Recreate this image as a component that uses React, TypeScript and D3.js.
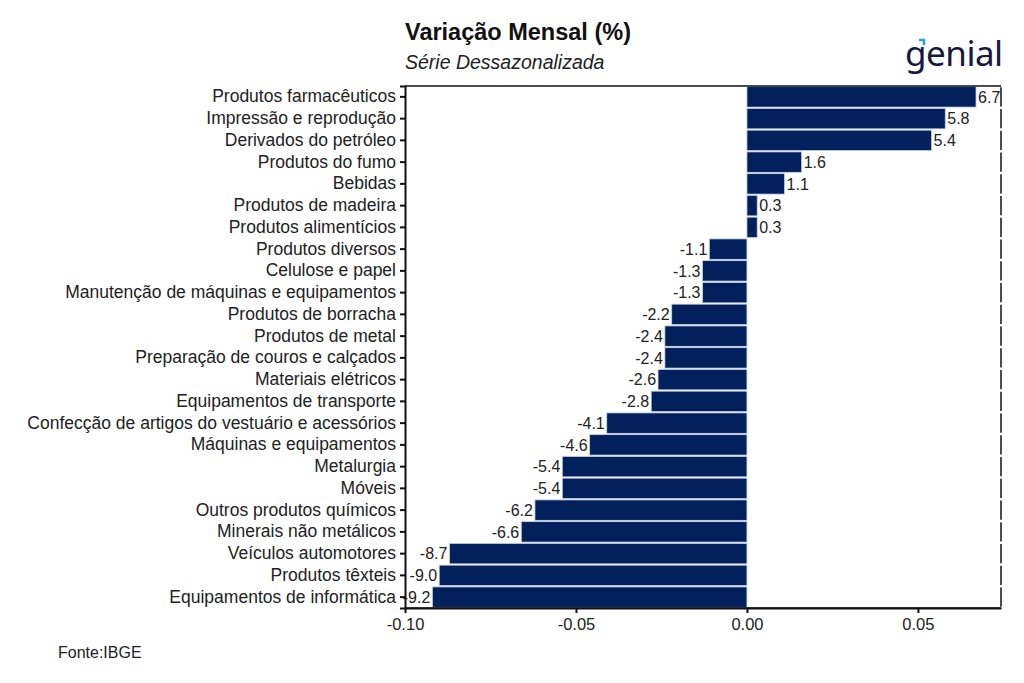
import { useRef, useEffect } from "react";
import * as d3 from "d3";

const categories = [
    "Produtos farmacêuticos",
    "Impressão e reprodução",
    "Derivados do petróleo",
    "Produtos do fumo",
    "Bebidas",
    "Produtos de madeira",
    "Produtos alimentícios",
    "Produtos diversos",
    "Celulose e papel",
    "Manutenção de máquinas e equipamentos",
    "Produtos de borracha",
    "Produtos de metal",
    "Preparação de couros e calçados",
    "Materiais elétricos",
    "Equipamentos de transporte",
    "Confecção de artigos do vestuário e acessórios",
    "Máquinas e equipamentos",
    "Metalurgia",
    "Móveis",
    "Outros produtos químicos",
    "Minerais não metálicos",
    "Veículos automotores",
    "Produtos têxteis",
    "Equipamentos de informática",
];

// monthly change, in fraction (label shows x100)
const values = [
    0.067, 0.058, 0.054, 0.016, 0.011, 0.003, 0.003,
    -0.011, -0.013, -0.013, -0.022, -0.024, -0.024, -0.026, -0.028,
    -0.041, -0.046, -0.054, -0.054, -0.062, -0.066, -0.087, -0.090, -0.092,
];

const xTicks = [-0.1, -0.05, 0, 0.05];

// plain hyphen for negatives, like the original
const fmt = (f: string) => (v: number) => d3.format(f)(v).replace("\u2212", "-");

const App = () => {
    const svgRef = useRef(null);

    useEffect(() => {
        const svg = d3.select(svgRef.current);
        svg.selectAll("*").remove();

        const width = 1024;
        const height = 683;
        const margin = { top: 86, right: 23, bottom: 75, left: 405 };
        const font = "'Liberation Sans', Arial, sans-serif";
        const navy = "#02205c";

        const data = categories.map((c, i) => ({ cat: c, value: values[i] }));

        const x = d3.scaleLinear()
            .domain([-0.1, 0.0743])
            .range([margin.left, width - margin.right]);

        const y = d3.scaleBand()
            .domain(categories)
            .range([margin.top, height - margin.bottom])
            .paddingInner(0.06)
            .paddingOuter(0.03);

        // bars
        svg.append("g")
            .selectAll("rect")
            .data(data)
            .join("rect")
            .attr("x", d => Math.min(x(0), x(d.value)))
            .attr("y", d => y(d.cat)!)
            .attr("width", d => Math.abs(x(d.value) - x(0)))
            .attr("height", y.bandwidth())
            .attr("fill", navy)
            .attr("stroke", "#c9d2e4")
            .attr("stroke-width", 0.8);

        // value labels
        svg.append("g")
            .selectAll("text")
            .data(data)
            .join("text")
            .attr("x", d => d.value >= 0 ? x(d.value) + 2 : x(d.value) - 2)
            .attr("y", d => y(d.cat)! + y.bandwidth() / 2)
            .attr("dy", "0.36em")
            .attr("text-anchor", d => d.value >= 0 ? "start" : "end")
            .attr("font-family", font)
            .attr("font-size", 16)
            .attr("fill", "#222")
            .text(d => fmt(".1f")(d.value * 100));

        const [x0, x1] = x.range();
        const [y0, y1] = y.range();

        // frame: top and bottom
        svg.append("line")
            .attr("x1", x0).attr("x2", x1).attr("y1", y0).attr("y2", y0)
            .attr("stroke", "#111").attr("stroke-width", 1.5);
        svg.append("line")
            .attr("x1", x0).attr("x2", x1).attr("y1", y1).attr("y2", y1)
            .attr("stroke", "#111").attr("stroke-width", 1.5);

        // right edge, broken between bands
        svg.append("g")
            .selectAll("line")
            .data(categories)
            .join("line")
            .attr("x1", x1).attr("x2", x1)
            .attr("y1", d => y(d)! + 0.5)
            .attr("y2", d => y(d)! + y.bandwidth() - 0.5)
            .attr("stroke", "#111")
            .attr("stroke-width", 1.5);

        // left axis
        const yAxis = svg.append("g")
            .attr("transform", `translate(${x0},0)`)
            .call(d3.axisLeft(y).tickSize(5).tickPadding(4));
        yAxis.select(".domain").attr("stroke", "#111").attr("stroke-width", 2);
        yAxis.selectAll(".tick line").attr("stroke", "#111").attr("stroke-width", 2);
        yAxis.selectAll("text")
            .attr("font-family", font)
            .attr("font-size", 17.5)
            .attr("fill", "#222");

        // bottom axis
        const xAxis = svg.append("g")
            .attr("transform", `translate(0,${y1})`)
            .call(d3.axisBottom(x).tickValues(xTicks).tickFormat(v => fmt(".2f")(+v)).tickSize(5).tickPadding(5).tickSizeOuter(0));
        xAxis.select(".domain").attr("stroke", "#111").attr("stroke-width", 2);
        xAxis.selectAll(".tick line").attr("stroke", "#111").attr("stroke-width", 2);
        xAxis.selectAll("text")
            .attr("font-family", font)
            .attr("font-size", 16.5)
            .attr("fill", "#222");

        // titles
        svg.append("text")
            .attr("x", x0).attr("y", 40)
            .attr("font-family", font)
            .attr("font-size", 23.5)
            .attr("font-weight", "bold")
            .attr("fill", "#111")
            .text("Variação Mensal (%)");
        svg.append("text")
            .attr("x", x0).attr("y", 69)
            .attr("font-family", font)
            .attr("font-size", 19.5)
            .attr("font-style", "italic")
            .attr("fill", "#222")
            .text("Série Dessazonalizada");

        svg.append("text")
            .attr("x", 58).attr("y", 658)
            .attr("font-family", font)
            .attr("font-size", 16)
            .attr("fill", "#222")
            .text("Fonte:IBGE");

        // logo
        svg.append("text")
            .attr("x", 905).attr("y", 66)
            .attr("font-family", "'Noto Sans', sans-serif")
            .attr("font-size", 35)
            .attr("letter-spacing", -0.5)
            .attr("fill", "#17183f")
            .text("genial");
        svg.append("path")
            .attr("d", "M919,40 L924,40 L924,45")
            .attr("fill", "none")
            .attr("stroke", "#2c9cf0")
            .attr("stroke-width", 2.5);
    }, []);

    return <svg ref={svgRef} width={1024} height={683} style={{ display: "block", margin: -8 }}></svg>;
};

export default App;
